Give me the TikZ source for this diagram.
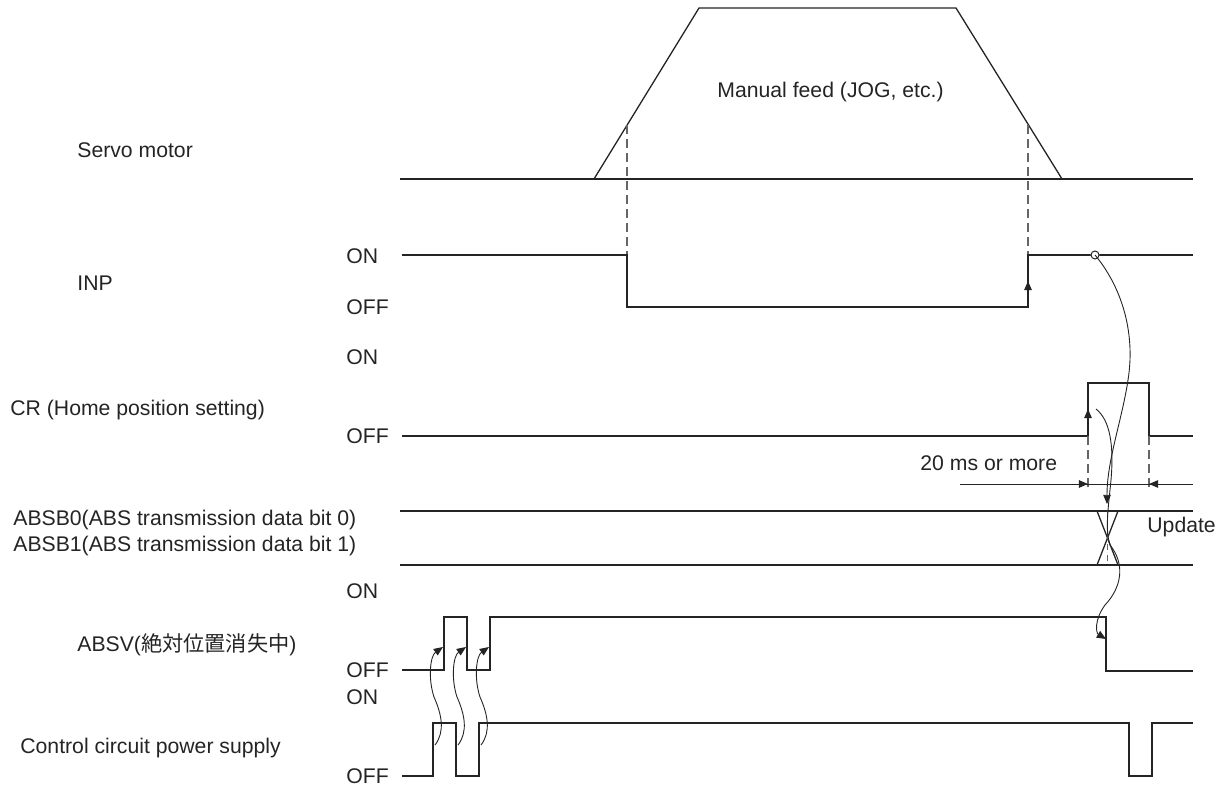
\documentclass[tikz,border=0pt]{standalone}
\usepackage{fontspec}
\setmainfont{Liberation Sans}
\newfontfamily\cjk{Noto Sans CJK JP}
\usetikzlibrary{arrows.meta}
\definecolor{ink}{gray}{0.14}

\begin{document}
\begin{tikzpicture}[x=0.5pt, y=-0.5pt,
  sig/.style={ink, line width=0.65pt},
  guide/.style={black!60, line width=0.55pt, dash pattern=on 4.5pt off 2.5pt},
  cause/.style={ink, line width=0.45pt, -{Triangle[length=4.6pt,width=3.8pt]}},
  tipmark/.style={ink, line width=0.65pt, -{Triangle[length=4.6pt,width=3.8pt]}},
  lbl/.style={anchor=west, inner sep=0pt, text=ink, font=\fontsize{10.6pt}{12pt}\selectfont}]

\useasboundingbox (0,0) rectangle (1230,785);

%% ---- Signal names (left) ----
\node[lbl] (servo) at (77,150) {Servo motor};
\node[lbl] (inp)   at (77,283) {INP};
\node[lbl] (cr)    at (10,410) {CR (Home position setting)};
\node[lbl] (absb0) at (13,520) {ABSB0(ABS transmission data bit 0)};
\node[lbl] (absb1) at (13,546) {ABSB1(ABS transmission data bit 1)};
\node[lbl] (absv)  at (77,645) {ABSV({\cjk 絶対位置消失中})};
\node[lbl] (ccps)  at (20,748) {Control circuit power supply};

%% ---- ON / OFF levels ----
\foreach \n/\yon/\yoff in {inp/256/307, cr/357/436, absv/591/670, ccps/697/776} {
  \node[lbl] (\n on)  at (346,\yon)  {ON};
  \node[lbl] (\n off) at (346,\yoff) {OFF};
}

%% ---- Servo motor ----
\draw[sig] (400,179) -- (1193,179);
\draw[sig] (594,179) -- (699,8) -- (956,8) -- (1062,179);
\node[lbl] (feed) at (717,92) {Manual feed (JOG, etc.)};
\draw[guide] (627,125) -- (627,255);
\draw[guide] (1028,125) -- (1028,255);

%% ---- INP ----
\draw[sig] (402,255) -- (627,255) -- (627,307) -- (1028,307) -- (1028,255) -- (1193,255);
\draw[tipmark] (1028,294) -- (1028,281);
\coordinate (inpup) at (1095,255);

%% ---- CR ----
\draw[sig] (402,436) -- (1088,436) -- (1088,383) -- (1149,383) -- (1149,436) -- (1193,436);
\draw[tipmark] (1088,422) -- (1088,409);
\draw[guide] (1088,436) -- (1088,490);
\draw[guide] (1149,436) -- (1149,490);
\coordinate (crup) at (1096,409);

%% ---- 20 ms ----
\draw[sig, line width=0.5pt] (960,484) -- (1193,484);
\draw[tipmark, line width=0.5pt] (1076,484) -- (1088,484);
\draw[tipmark, line width=0.5pt] (1161,484) -- (1149,484);
\node[lbl] (twenty) at (920,463) {20 ms or more};

%% ---- ABSB0 / ABSB1 ----
\draw[sig] (400,511) -- (1193,511);
\draw[sig] (400,565) -- (1193,565);
\draw[sig] (1097,511) -- (1118,565);
\draw[sig] (1118,511) -- (1097,565);
\draw[black!60, line width=0.5pt, dash pattern=on 3pt off 2.5pt] (1107,511) -- (1107,565);
\node[lbl] (upd) at (1147,527) {Update};
\coordinate (absbx) at (1107,504);

%% ---- ABSV ----
\draw[sig] (402,670) -- (444,670) -- (444,617) -- (467,617) -- (467,670) -- (490,670)
  -- (490,617) -- (1106,617) -- (1106,671) -- (1193,671);
\coordinate (absvdn) at (1106,639);

%% ---- Control circuit power supply ----
\draw[sig] (402,776) -- (433,776) -- (433,723) -- (456,723) -- (456,776) -- (479,776)
  -- (479,723) -- (1129,723) -- (1129,776) -- (1152,776) -- (1152,723) -- (1193,723);

%% ---- Cause arrows ----
\foreach \p/\q in {435/443, 458/466, 481/489}
  \draw[cause] (\p,745) .. controls ({\p+10},732) and ({\p+7},715) .. ({\p-1},697)
    .. controls ({\p-7},679) and ({\p-5},656) .. (\q,647);
\draw[white, fill=white] (inpup) circle[radius=2pt];
\draw[cause] (inpup) .. controls (1120,285) and (1136,330) .. (1128,380)
  .. controls (1122,420) and (1107,460) .. (absbx);
\draw[ink, line width=0.5pt] (inpup) circle[radius=2pt];
\draw[cause] (crup) .. controls (1110,420) and (1114,445) .. (1111,480)
  .. controls (1108,510) and (1105,530) .. (1110,545)
  .. controls (1126,565) and (1121,588) .. (1105,605)
  .. controls (1094,620) and (1096,633) .. (absvdn);

\end{tikzpicture}
\end{document}
